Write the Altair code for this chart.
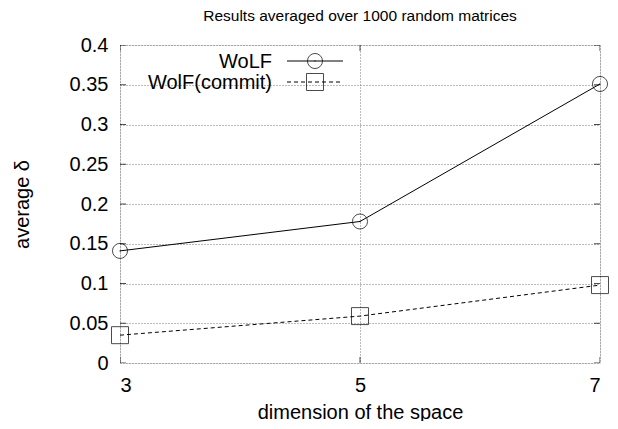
import altair as alt
import pandas as pd

dims = [3, 5, 7]
wolf = [0.141, 0.178, 0.351]
wolf_commit = [0.035, 0.059, 0.098]
series_names = ["WoLF", "WolF(commit)"]
y_ticks = [0, 0.05, 0.1, 0.15, 0.2, 0.25, 0.3, 0.35, 0.4]
x_ticks = [3, 5, 7]

W, H = 480, 318
FONT = "Liberation Sans"

df = pd.DataFrame({
    "dim": dims * 2,
    "val": wolf + wolf_commit,
    "series": [series_names[0]] * 3 + [series_names[1]] * 3,
})

xs = alt.Scale(domain=[3, 7], nice=False)
ys = alt.Scale(domain=[0, 0.4], nice=False)

xax = alt.Axis(values=x_ticks, format="d", grid=True, gridColor="#777", gridDash=[1, 2],
               gridWidth=1, domain=False, ticks=False, labelFontSize=20, labelFont=FONT,
               labelColor="black", labelPadding=12, labelOverlap=False,
               title="dimension of the space",
               titleFontSize=20, titleFont=FONT, titleFontWeight="normal", titleColor="black",
               titlePadding=7)
yax = alt.Axis(values=y_ticks, format="~g", grid=True, gridColor="#777", gridDash=[1, 2],
               gridWidth=1, domain=False, ticks=False, labelFontSize=20, labelFont=FONT,
               labelColor="black", labelPadding=12, labelOverlap=False, title="average δ",
               titleFontSize=20, titleFont=FONT, titleFontWeight="normal", titleColor="black",
               titlePadding=37)

X = lambda f: alt.X(f, scale=xs, axis=xax)
Y = lambda f: alt.Y(f, scale=ys, axis=yax)

base = alt.Chart(df)
s0 = base.transform_filter(alt.datum.series == series_names[0])
s1 = base.transform_filter(alt.datum.series == series_names[1])

line_wolf = s0.mark_line(color="black", strokeWidth=1).encode(x=X("dim:Q"), y=Y("val:Q"))
pts_wolf = s0.mark_point(shape="circle", size=227, color="black", filled=False,
                         strokeWidth=1).encode(x=X("dim:Q"), y=Y("val:Q"))
ctr_wolf = s0.mark_point(shape="circle", size=2, color="black", filled=True).encode(
    x=X("dim:Q"), y=Y("val:Q"))
line_c = s1.mark_line(color="black", strokeWidth=1, strokeDash=[4, 3]).encode(
    x=X("dim:Q"), y=Y("val:Q"))
pts_c = s1.mark_point(shape="square", size=289, color="black", filled=False,
                      strokeWidth=1).encode(x=X("dim:Q"), y=Y("val:Q"))

# inward tick marks (gnuplot style)
ytick_df = pd.DataFrame({"val": y_ticks})
ticks_left = alt.Chart(ytick_df).mark_tick(color="black", size=12, thickness=1, clip=True,
                                           orient="horizontal").encode(
    y=Y("val:Q"), x=alt.value(0))
ticks_right = alt.Chart(ytick_df).mark_tick(color="black", size=12, thickness=1, clip=True,
                                            orient="horizontal").encode(
    y=Y("val:Q"), x=alt.value(W))
xtick_df = pd.DataFrame({"dim": x_ticks})
ticks_bottom = alt.Chart(xtick_df).mark_tick(color="black", size=12, thickness=1, clip=True,
                                             orient="vertical").encode(
    x=X("dim:Q"), y=alt.value(H))
ticks_top = alt.Chart(xtick_df).mark_tick(color="black", size=12, thickness=1, clip=True,
                                          orient="vertical").encode(
    x=X("dim:Q"), y=alt.value(0))

# legend (gnuplot key: label left, sample right)
leg = pd.DataFrame({"name": series_names, "ly": [16, 37]})
LY = alt.Y("ly:Q", scale=None)
leg_text = alt.Chart(leg).mark_text(align="right", baseline="middle", fontSize=20,
                                    font=FONT, color="black", dy=1).encode(
    x=alt.value(152), y=LY, text="name:N")
leg_line1 = alt.Chart(leg.iloc[[0]]).mark_rule(color="black", strokeWidth=1).encode(
    x=alt.value(167), x2=alt.value(223), y=LY)
leg_line2 = alt.Chart(leg.iloc[[1]]).mark_rule(color="black", strokeWidth=1,
                                               strokeDash=[4, 3]).encode(
    x=alt.value(167), x2=alt.value(223), y=LY)
leg_pt1 = alt.Chart(leg.iloc[[0]]).mark_point(shape="circle", size=227, color="black",
                                              filled=False, strokeWidth=1).encode(
    x=alt.value(195), y=LY)
leg_ctr1 = alt.Chart(leg.iloc[[0]]).mark_point(shape="circle", size=2, color="black",
                                               filled=True).encode(
    x=alt.value(195), y=LY)
leg_pt2 = alt.Chart(leg.iloc[[1]]).mark_point(shape="square", size=289, color="black",
                                              filled=False, strokeWidth=1).encode(
    x=alt.value(195), y=LY)

chart = alt.layer(
    line_wolf, line_c, pts_wolf, ctr_wolf, pts_c,
    ticks_left, ticks_right, ticks_bottom, ticks_top,
    leg_text, leg_line1, leg_line2, leg_pt1, leg_ctr1, leg_pt2,
).properties(
    width=W, height=H,
    title=alt.TitleParams("Results averaged over 1000 random matrices", fontSize=15.5,
                          font=FONT, fontWeight="normal", color="black", anchor="middle",
                          offset=11),
    autosize=alt.AutoSizeParams(type="none"),
    padding={"left": 112, "top": 37, "right": 10, "bottom": 58},
).configure_view(stroke="black", strokeWidth=1.5).configure(background="white")

chart.save("out.html", embed_options={"renderer": "svg", "actions": False})
